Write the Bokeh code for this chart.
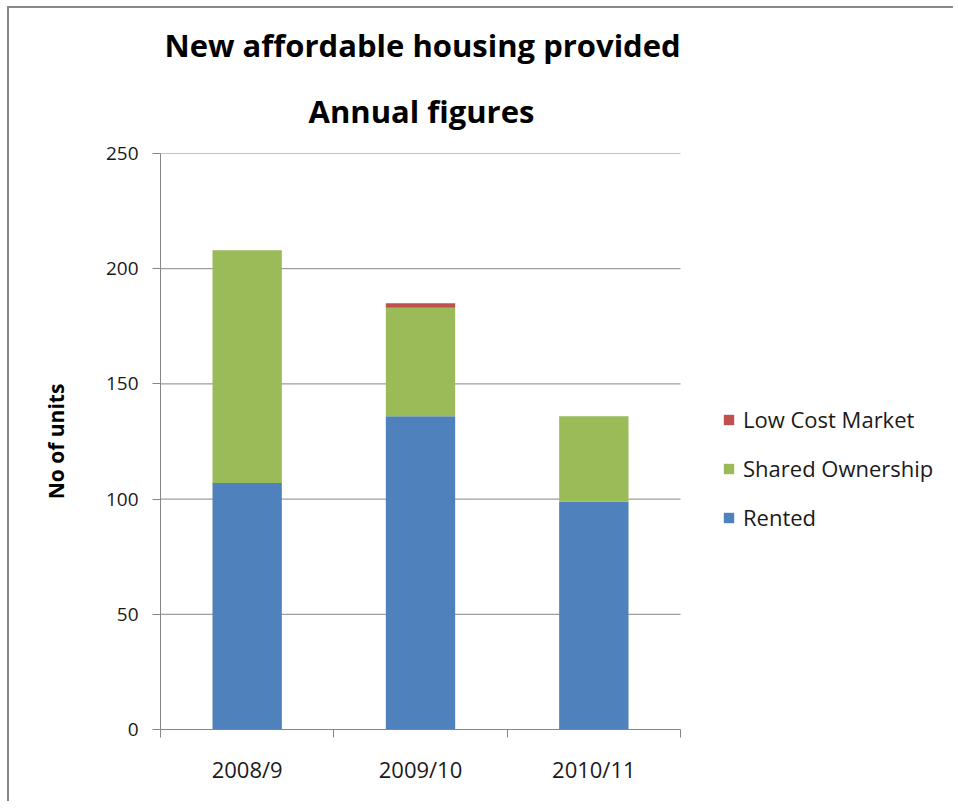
from bokeh.plotting import figure
from bokeh.models import (Legend, LegendItem, Title, Range1d, FixedTicker,
                          LinearAxis, ColumnDataSource)
from bokeh.embed import file_html
from bokeh.resources import INLINE

# ---- data ----
years = ["2008/9", "2009/10", "2010/11"]
rented = [107, 136, 99]
shared_ownership = [101, 47, 37]
low_cost_market = [0, 2, 0]
series = ["Rented", "Shared Ownership", "Low Cost Market"]
colors = ["#4F81BD", "#9BBB59", "#C0504D"]
y_ticks = [0, 50, 100, 150, 200, 250]
title_lines = ["New affordable housing provided", "Annual figures"]
y_label = "No of units"

FONT = "Open Sans"
GRID = "#868686"
W, H = 946, 795
ML, MT, MR, MB = 151, 145, 5, 74
PLOT_W = 520                    # pixel width of the category area
FRAME_W = W - ML - MR           # frame also hosts the legend on its right

# category slots: category i occupies [i, i+1], centre at i + 0.5
n = len(years)
slot_centres = [i + 0.5 for i in range(n)]
slot_edges = list(range(n + 1))

source = ColumnDataSource(data={
    "x": slot_centres,
    "Rented": rented,
    "Shared Ownership": shared_ownership,
    "Low Cost Market": low_cost_market,
})

p = figure(x_range=Range1d(0, n * FRAME_W / PLOT_W), y_range=Range1d(y_ticks[0], y_ticks[-1]),
           width=W, height=H, output_backend="svg", toolbar_location=None,
           x_axis_location=None,
           min_border_left=ML, min_border_right=MR, min_border_top=MT, min_border_bottom=MB,
           styles={"margin-left": "7px", "margin-top": "6px",
                   "border-left": "2px solid #888888", "border-top": "2px solid #888888"})
p.title.visible = False
p.outline_line_color = None
p.xgrid.visible = False
p.ygrid.visible = False

# horizontal gridlines across the category area only
p.segment(x0=0, x1=n, y0=y_ticks[1:], y1=y_ticks[1:], line_color=GRID, line_width=1)

renderers = p.vbar_stack(series, x="x", width=0.4, source=source,
                         fill_color=colors, line_color=None)

# y axis
yax = p.yaxis[0]
yax.ticker = FixedTicker(ticks=y_ticks, minor_ticks=[])
yax.axis_line_color = GRID
yax.major_tick_line_color = GRID
yax.major_tick_in = 0
yax.major_tick_out = 8
yax.minor_tick_line_color = None
yax.major_label_text_font = FONT
yax.major_label_text_font_size = "19px"
yax.major_label_text_color = "#1a1a1a"
yax.major_label_standoff = 14
yax.axis_label = y_label
yax.axis_label_text_font = FONT
yax.axis_label_text_font_style = "bold"
yax.axis_label_text_font_size = "21px"
yax.axis_label_text_color = "#000000"
yax.axis_label_standoff = 33

# x axis: boundary ticks, then category labels at slot centres
tick_axis = LinearAxis(ticker=FixedTicker(ticks=slot_edges, minor_ticks=[]),
                       bounds=(0, n),
                       axis_line_color=GRID, major_tick_line_color=GRID,
                       major_tick_in=0, major_tick_out=8, minor_tick_line_color=None,
                       major_label_overrides={e: "" for e in slot_edges},
                       major_label_standoff=0)
p.add_layout(tick_axis, "below")
label_axis = LinearAxis(ticker=FixedTicker(ticks=slot_centres, minor_ticks=[]),
                        major_label_overrides={c: y for c, y in zip(slot_centres, years)},
                        axis_line_color=None, major_tick_line_color=None,
                        minor_tick_line_color=None,
                        major_label_text_font=FONT, major_label_text_font_size="22px",
                        major_label_text_color="#1a1a1a", major_label_standoff=10)
p.add_layout(label_axis, "below")

# title: two lines, each centred over the category area (bottom line added first)
for line, standoff, offset in zip(title_lines[::-1], [44, 0], [148, 4]):
    p.add_layout(Title(text=line, align="left", offset=offset, standoff=standoff,
                       text_font=FONT, text_font_style="bold", text_font_size="31px",
                       text_color="#000000"), "above")

# legend, inside the frame to the right of the category area
items = [LegendItem(label=name, renderers=[r]) for name, r in zip(series, renderers)][::-1]
legend = Legend(items=items, location=(PLOT_W + 42, 197), margin=0, padding=10,
                glyph_width=13, glyph_height=13, label_standoff=8,
                spacing=19, label_text_font=FONT, label_text_font_size="22px",
                label_text_color="#1a1a1a", border_line_color=None,
                background_fill_alpha=0)
p.add_layout(legend, "center")

open("out.html", "w").write(file_html(p, INLINE))
